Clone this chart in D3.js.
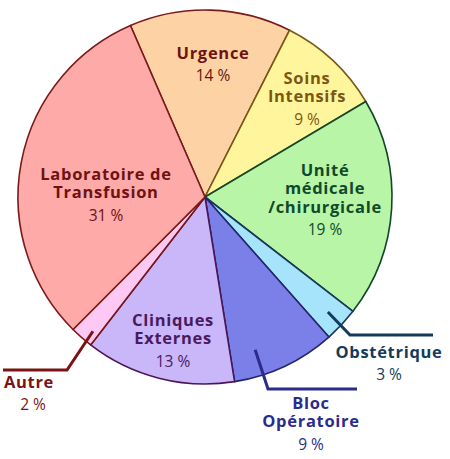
<!DOCTYPE html>
<html>
<head>
<meta charset="utf-8">
<script src="https://cdn.jsdelivr.net/npm/d3@7"></script>
<style>
  body { margin: 0; background: #fff; }
  svg { display: block; font-family: "Open Sans", "Noto Sans", sans-serif; }
</style>
</head>
<body>
<svg id="chart" width="450" height="459"></svg>
<script>
// categories, clockwise from Urgence
const categories = ["Urgence", "Soins Intensifs", "Unité médicale /chirurgicale", "Obstétrique",
  "Bloc Opératoire", "Cliniques Externes", "Autre", "Laboratoire de Transfusion"];
const values = [14, 9, 19, 3, 9, 13, 2, 31];
const labelLines = [["Urgence"], ["Soins", "Intensifs"], ["Unité", "médicale", "/chirurgicale"], ["Obstétrique"],
  ["Bloc", "Opératoire"], ["Cliniques", "Externes"], ["Autre"], ["Laboratoire de", "Transfusion"]];
const fills = ["#fdd3a5", "#fff59d", "#b9f5a6", "#a6e4fb", "#7b80e8", "#c9b7f9", "#fdc9f4", "#fdaaa9"];
const strokes = ["#7a1a1a", "#7a5a12", "#12482a", "#15385a", "#24246e", "#4a1656", "#7a1414", "#7a1a1a"];
const textColors = ["#6e1212", "#7a5812", "#0f4a2c", "#143a5c", "#2b2b8c", "#4a1a5e", "#7a1414", "#6e1212"];

const width = 450, height = 459;
const cx = 205, cy = 197, radius = 187;
const rot = -23.5 * Math.PI / 180;

const svg = d3.select("#chart");
const g = svg.append("g").attr("transform", `translate(${cx},${cy})`);

const pie = d3.pie()
  .sort(null)
  .value(d => d)
  .startAngle(rot)
  .endAngle(rot + 2 * Math.PI);

const arcs = pie(values);
const arc = d3.arc().innerRadius(0).outerRadius(radius);

g.selectAll("path.slice")
  .data(arcs)
  .join("path")
  .attr("class", "slice")
  .attr("d", arc)
  .attr("fill", (d, i) => fills[i])
  .attr("stroke", (d, i) => strokes[i])
  .attr("stroke-width", 1.6)
  .attr("stroke-linejoin", "round");

// where the first line of each label sits, relative to the pie centre
const labelPos = [[8, -144], [102, -119], [120, -27], [184, 155], [106, 206], [-32, 123], [-176, 185], [-99, -23]];

// leader lines for the small slices: point along slice (0..1), radius share, elbow, end
const leader = {
  3: { t: 0.5, r0: 0.9, elbow: [145, 138], end: [228, 138] },
  4: { t: 0.72, r0: 0.86, elbow: [63, 192], end: [152, 192] },
  6: { t: 0.3, r0: 0.935, elbow: [-138, 173], end: [-202, 173] }
};

const lineH = 18.5;

arcs.forEach((d, i) => {
  if (leader[i]) {
    const L = leader[i];
    const a = d.startAngle + (d.endAngle - d.startAngle) * L.t;
    const sx = Math.sin(a) * radius * L.r0, sy = -Math.cos(a) * radius * L.r0;
    g.append("path")
      .attr("d", d3.line()([[sx, sy], L.elbow, L.end]))
      .attr("fill", "none")
      .attr("stroke", textColors[i])
      .attr("stroke-width", 3)
      .attr("stroke-linejoin", "miter");
  }
  const [x, y] = labelPos[i];
  const t = g.append("g").attr("transform", `translate(${x},${y})`);
  labelLines[i].forEach((s, k) => {
    t.append("text")
      .attr("x", 0).attr("y", k * lineH)
      .attr("dy", "0.35em")
      .attr("text-anchor", "middle")
      .attr("font-weight", 700)
      .attr("font-size", 16.5)
      .attr("letter-spacing", 0.7)
      .attr("fill", textColors[i])
      .text(s);
  });
  t.append("text")
    .attr("x", i === 6 ? 4 : 0).attr("y", (labelLines[i].length - 1) * lineH + 23)
    .attr("dy", "0.35em")
    .attr("text-anchor", "middle")
    .attr("font-weight", 400)
    .attr("font-size", 15.5)
    .attr("fill", textColors[i])
    .text(values[i] + " %");
});
</script>
</body>
</html>
